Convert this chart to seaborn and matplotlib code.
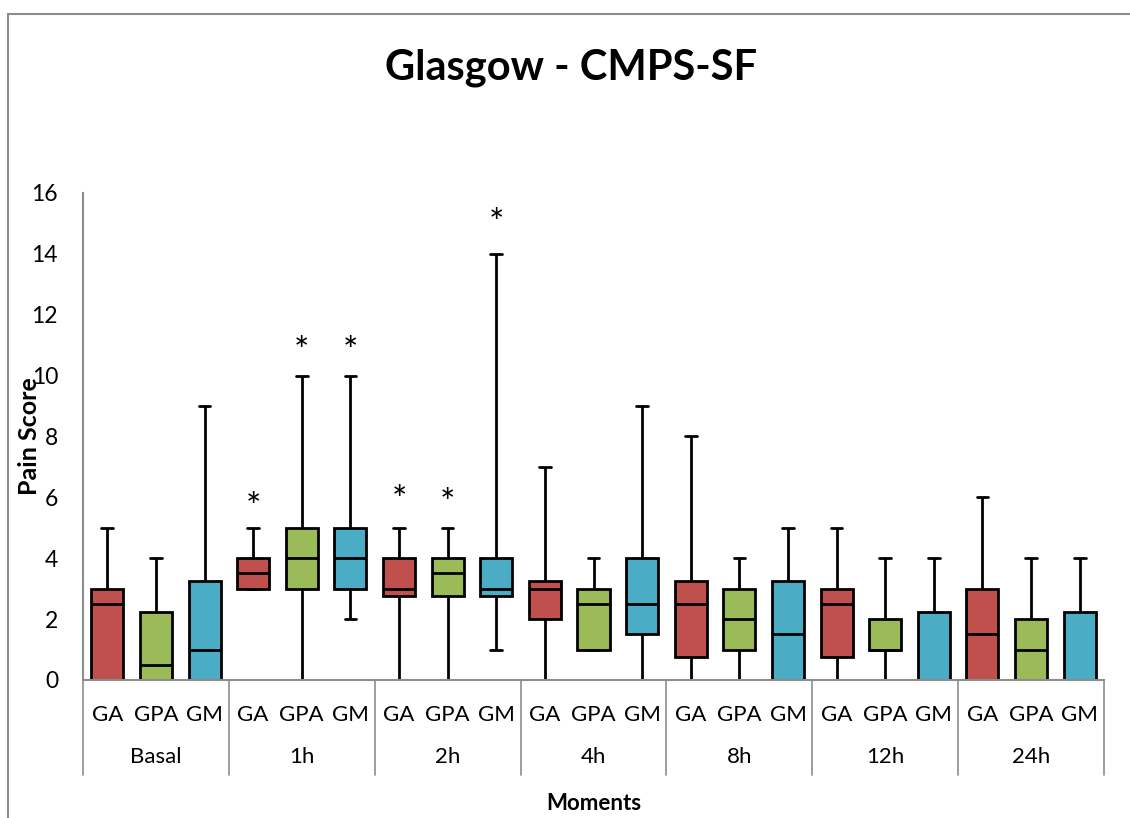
import matplotlib
matplotlib.use('Agg')
import matplotlib.pyplot as plt
from matplotlib.patches import Rectangle
import seaborn as sns
import pandas as pd

sns.set_style('white')
plt.rcParams['font.family'] = ['Lato', 'DejaVu Sans']
plt.rcParams['text.color'] = 'black'
plt.rcParams['axes.labelcolor'] = 'black'
plt.rcParams['xtick.color'] = 'black'
plt.rcParams['ytick.color'] = 'black'

moments = ['Basal', '1h', '2h', '4h', '8h', '12h', '24h']
groups = ['GA', 'GPA', 'GM']
colors = ['#C0504D', '#9BBB59', '#4BACC6']

# min, q1, median, q3, max for each moment
ga_stats = [[0, 0, 2.5, 3, 5], [3, 3, 3.5, 4, 5], [0, 2.75, 3, 4, 5], [0, 2, 3, 3.25, 7],
            [0, 0.75, 2.5, 3.25, 8], [0, 0.75, 2.5, 3, 5], [0, 0, 1.5, 3, 6]]
gpa_stats = [[0, 0, 0.5, 2.25, 4], [0, 3, 4, 5, 10], [0, 2.75, 3.5, 4, 5], [1, 1, 2.5, 3, 4],
             [0, 1, 2, 3, 4], [0, 1, 1, 2, 4], [0, 0, 1, 2, 4]]
gm_stats = [[0, 0, 1, 3.25, 9], [2, 3, 4, 5, 10], [1, 2.75, 3, 4, 14], [0, 1.5, 2.5, 4, 9],
            [0, 0, 1.5, 3.25, 5], [0, 0, 0, 2.25, 4], [0, 0, 0, 2.25, 4]]

# significance markers
star_moments = ['1h', '1h', '1h', '2h', '2h', '2h']
star_groups = ['GA', 'GPA', 'GM', 'GA', 'GPA', 'GM']
star_values = [6.0, 11.1, 11.1, 6.2, 6.1, 15.3]

rows = []
for g, stats in zip(groups, [ga_stats, gpa_stats, gm_stats]):
    for m, five in zip(moments, stats):
        for v in five:
            rows.append({'Moment': m, 'Group': g, 'Score': v})
df = pd.DataFrame(rows)

fig = plt.figure(figsize=(11.3, 8.18), dpi=100)
ax = fig.add_axes([83/1130, 138/818, 1021/1130, 487/818])

sns.boxplot(data=df, x='Moment', y='Score', hue='Group', order=moments,
            hue_order=groups, palette=colors, whis=(0, 100), width=1.0, gap=0.34,
            linecolor='black', linewidth=2, saturation=1, showfliers=False,
            legend=False, capwidths=0.08, ax=ax)

ax.set_xlim(-0.5, 6.5)
ax.set_ylim(0, 16)
ax.set_yticks(range(0, 17, 2))
ax.tick_params(axis='y', length=0, pad=18, labelsize=16.5)
ax.tick_params(axis='x', length=0, pad=48, labelsize=16)
for s in ['top', 'right']:
    ax.spines[s].set_visible(False)
for s in ['left', 'bottom']:
    ax.spines[s].set_color('#8c8c8c')
    ax.spines[s].set_linewidth(1.5)

trans = ax.get_xaxis_transform()
offsets = [-1/3, 0, 1/3]
for i in range(len(moments)):
    for off, g in zip(offsets, groups):
        ax.text(i + off, -0.072, g, transform=trans, ha='center', va='center', fontsize=16)
for i in range(len(moments) + 1):
    ax.plot([i - 0.5, i - 0.5], [0, -0.195], transform=trans, color='#8c8c8c',
            lw=1.2, clip_on=False)

for m, g, v in zip(star_moments, star_groups, star_values):
    x = moments.index(m) + offsets[groups.index(g)]
    ax.text(x, v - 0.35, '*', ha='center', va='center', fontsize=26)

ax.set_xlabel('Moments', fontsize=16, fontweight='bold')
ax.xaxis.label.set_va('center')
ax.xaxis.set_label_coords(0.5, -0.253)
ax.set_ylabel('Pain Score', fontsize=18, fontweight='bold')
ax.yaxis.label.set_va('center')
ax.yaxis.set_label_coords(-0.052, 0.5)

fig.text(0.505, 0.917, 'Glasgow - CMPS-SF', ha='center', va='center',
         fontsize=30, fontweight='bold')
fig.patches.append(Rectangle((8/1130, -0.1), 1.1, 1.1 - 14/818, transform=fig.transFigure,
                             fill=False, edgecolor='#8c8c8c', lw=1.5))

plt.savefig('out.png', dpi=100)
